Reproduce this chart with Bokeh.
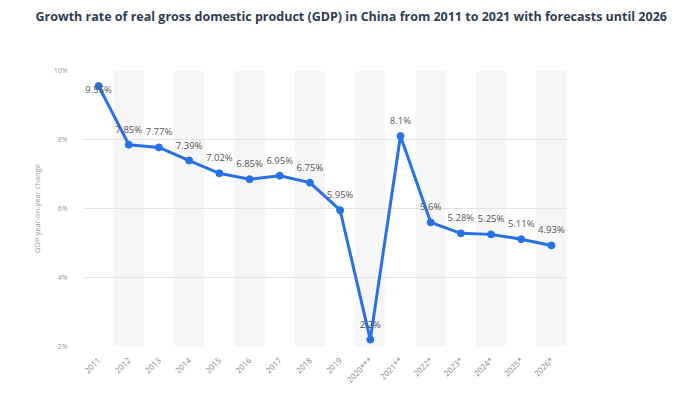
import math
from bokeh.plotting import figure
from bokeh.models import ColumnDataSource, FactorRange, Range1d, FixedTicker, CustomJSTickFormatter, Title
from bokeh.core.properties import value
from bokeh.embed import file_html
from bokeh.resources import INLINE

title_text = "Growth rate of real gross domestic product (GDP) in China from 2011 to 2021 with forecasts until 2026"
years = ["2011", "2012", "2013", "2014", "2015", "2016", "2017", "2018", "2019",
         "2020***", "2021**", "2022*", "2023*", "2024*", "2025*", "2026*"]
growth = [9.55, 7.85, 7.77, 7.39, 7.02, 6.85, 6.95, 6.75, 5.95,
          2.2, 8.1, 5.6, 5.28, 5.25, 5.11, 4.93]
labels = ["9.55%", "7.85%", "7.77%", "7.39%", "7.02%", "6.85%", "6.95%", "6.75%", "5.95%",
          "2.2%", "8.1%", "5.6%", "5.28%", "5.25%", "5.11%", "4.93%"]
y_ticks = [2, 4, 6, 8, 10]

Y_MIN, Y_MAX = 2, 10

p = figure(frame_width=483, frame_height=276, output_backend="svg", toolbar_location=None,
           x_range=FactorRange(*years), y_range=Range1d(Y_MIN, Y_MAX),
           min_border_left=83, min_border_right=103, min_border_top=0, min_border_bottom=10)

# spacer (inner) and main title (outer) in the top panel
p.add_layout(Title(text=" ", text_font_size="1px", standoff=35), "above")
p.add_layout(Title(text=title_text, text_font="Open Sans", text_font_size="12.5px",
                   text_font_style="bold", text_color="#2e3d4f", align="left",
                   offset=-48, vertical_align="middle", standoff=13), "above")

p.outline_line_color = None
p.background_fill_color = "white"

# alternating bands
band_x = [y for i, y in enumerate(years) if i % 2 == 1]
band_src = ColumnDataSource(dict(x=band_x, top=[Y_MAX] * len(band_x), bottom=[Y_MIN] * len(band_x)))
p.vbar(x="x", top="top", bottom="bottom", width=1.0, source=band_src,
       fill_color="#f6f6f6", line_color=None, level="underlay")

src = ColumnDataSource(dict(x=years, y=growth, lab=labels,
                            yoff=[10 if v > 9 else -9 for v in growth]))
p.line("x", "y", source=src, line_color="#2771e6", line_width=3)
p.scatter("x", "y", source=src, size=7, fill_color="#2771e6", line_color="#2771e6")
p.text("x", "y", text="lab", source=src, text_align="center", text_baseline="bottom",
       y_offset="yoff", text_font=value("Open Sans"), text_font_size="9.5px",
       text_color="#555555")

p.yaxis.ticker = FixedTicker(ticks=y_ticks)
p.yaxis.formatter = CustomJSTickFormatter(code="return tick + '%';")
p.yaxis.axis_label = "GDP year-on-year change"
p.yaxis.axis_label_text_font = "Open Sans"
p.yaxis.axis_label_text_font_size = "7.5px"
p.yaxis.axis_label_text_font_style = "normal"
p.yaxis.axis_label_text_color = "#999999"
p.yaxis.axis_label_standoff = 9
p.yaxis.major_label_text_font = "Open Sans"
p.yaxis.major_label_text_font_size = "7px"
p.yaxis.major_label_text_color = "#999999"
p.yaxis.major_label_standoff = 10

p.xaxis.major_label_orientation = math.pi / 4
p.xaxis.major_label_text_font = "Open Sans"
p.xaxis.major_label_text_font_size = "8px"
p.xaxis.major_label_text_color = "#888888"
p.xaxis.major_label_standoff = 6

for ax in (p.xaxis[0], p.yaxis[0]):
    ax.axis_line_color = None
    ax.major_tick_line_color = None
    ax.minor_tick_line_color = None

p.xgrid.grid_line_color = None
p.ygrid.grid_line_color = "#e4e4e4"
p.ygrid.grid_line_width = 1

open("out.html", "w").write(file_html(p, INLINE))
